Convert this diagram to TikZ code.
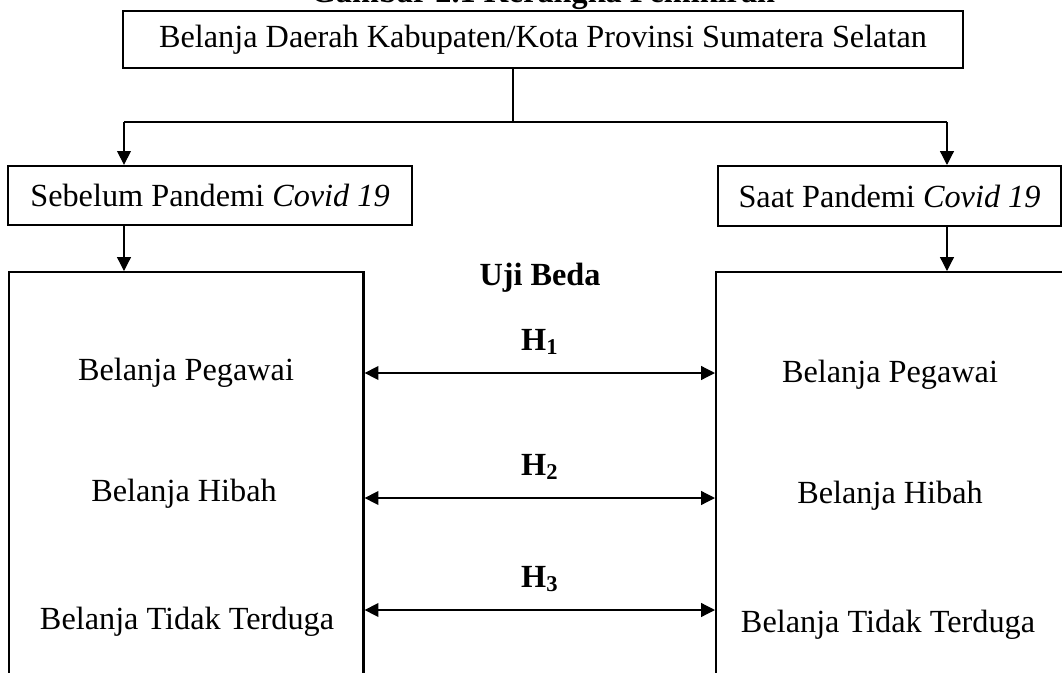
\documentclass[tikz,border=0pt]{standalone}
\usepackage{fontspec}
\setmainfont{Liberation Serif}
\usetikzlibrary{positioning, arrows.meta}

\begin{document}
\begin{tikzpicture}[
    x=0.01406cm, y=-0.01406cm,
    >={Triangle[length=5.5pt, width=5.5pt]},
    font=\fontsize{12.9}{15}\selectfont,
    box/.style={draw, line width=0.9pt, inner sep=0pt},
    panel/.style={draw, line width=0.9pt, anchor=north west, inner sep=0pt},
    item/.style={inner sep=1pt},
    hyp/.style={font=\fontsize{12.9}{15}\selectfont\bfseries, inner sep=1pt},
    link/.style={line width=0.5pt},
]
\useasboundingbox (0,0) rectangle (1062,673);

% === TOP ===
\node[hyp, anchor=base] (caption) at (543,2) {Gambar 2.1 Kerangka Pemikiran};
\node[box, minimum width=11.81cm, minimum height=0.80cm] (daerah) at (543,39.5)
    {Belanja Daerah Kabupaten/Kota Provinsi Sumatera Selatan};

\coordinate (split) at (513,122);
\coordinate (turnL) at (124,122);
\coordinate (turnR) at (947,122);

% === PERIODS ===
\node[box, minimum width=5.68cm, minimum height=0.83cm] (before) at (210,195.5)
    {Sebelum Pandemi \textit{Covid 19}};
\node[box, minimum width=4.82cm, minimum height=0.84cm] (during) at (889.5,196)
    {Saat Pandemi \textit{Covid 19}};

\draw[link] (split |- daerah.south) -- (split);
\draw[link] (turnL) -- (turnR);
\draw[link, ->] (turnL) -- (turnL |- before.north);
\draw[link, ->] (turnR) -- (turnR |- during.north);

% === PANELS ===
\node[panel, minimum width=4.98cm, minimum height=6.1cm] (leftpanel) at (8,271) {};
\node[panel, minimum width=5.3cm, minimum height=6.1cm] (rightpanel) at (715,271) {};

\draw[link, ->] (turnL |- before.south) -- (turnL |- leftpanel.north);
\draw[link, ->] (turnR |- during.south) -- (turnR |- rightpanel.north);

\node[item] (pegL) at (186,373) {Belanja Pegawai};
\node[item] (hibL) at (184,494) {Belanja Hibah};
\node[item] (tdkL) at (187,622) {Belanja Tidak Terduga};

\node[item] (pegR) at (890,375) {Belanja Pegawai};
\node[item] (hibR) at (890,496) {Belanja Hibah};
\node[item] (tdkR) at (888,625) {Belanja Tidak Terduga};

% === TESTS ===
\node[hyp] (uji) at (540,278) {Uji Beda};

\coordinate (h1) at (540,373);
\coordinate (h2) at (540,498);
\coordinate (h3) at (540,610);

\draw[link, <->] (h1 -| leftpanel.east) -- (h1 -| rightpanel.west);
\draw[link, <->] (h2 -| leftpanel.east) -- (h2 -| rightpanel.west);
\draw[link, <->] (h3 -| leftpanel.east) -- (h3 -| rightpanel.west);

\node[hyp, above=6pt of h1] (lab1) {H\textsubscript{1}};
\node[hyp, above=6pt of h2] (lab2) {H\textsubscript{2}};
\node[hyp, above=6pt of h3] (lab3) {H\textsubscript{3}};

\end{tikzpicture}
\end{document}
